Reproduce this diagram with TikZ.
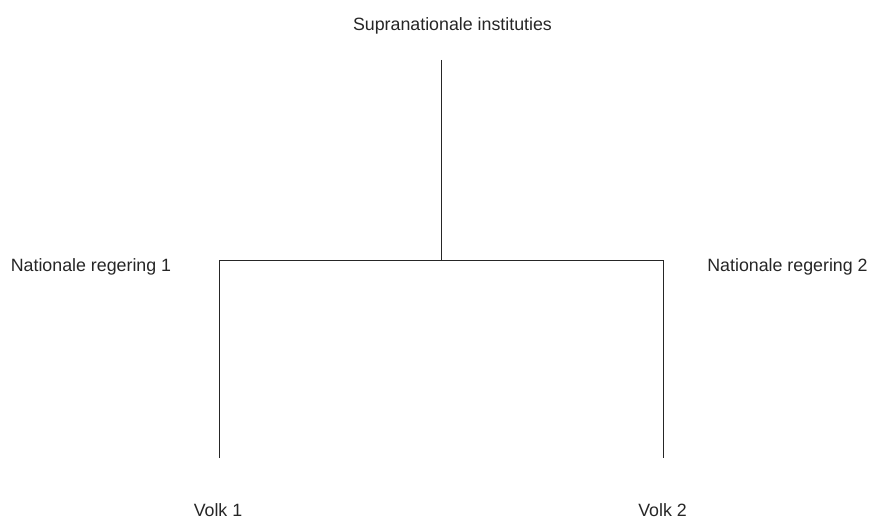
\documentclass[tikz,border=0pt]{standalone}
\usepackage{fontspec}
\setmainfont{Liberation Sans}
\begin{document}
\begin{tikzpicture}[x=1pt,y=-1pt,
  lbl/.style={anchor=base,inner sep=0pt,font=\fontsize{17.8}{20}\selectfont,text=black!85},
  wire/.style={draw=black!85,line width=0.9pt}]
\useasboundingbox (0,0) rectangle (871,519);
% labels
\node[lbl] (supra) at (452.5,31) {Supranationale instituties};
\node[lbl] (nat1) at (91,271) {Nationale regering 1};
\node[lbl] (nat2) at (787.5,271) {Nationale regering 2};
\node[lbl] (volk1) at (218,516) {Volk 1};
\node[lbl] (volk2) at (662.5,516) {Volk 2};
% tree structure
\coordinate (top) at (441,60);
\coordinate (mid) at (441,260);
\coordinate (left) at (219,260);
\coordinate (right) at (663,260);
\coordinate (leftend) at (219,458);
\coordinate (rightend) at (663,458);
\draw[wire] (top) -- (mid);
\draw[wire] (leftend) -- (left) -- (right) -- (rightend);
\end{tikzpicture}
\end{document}
